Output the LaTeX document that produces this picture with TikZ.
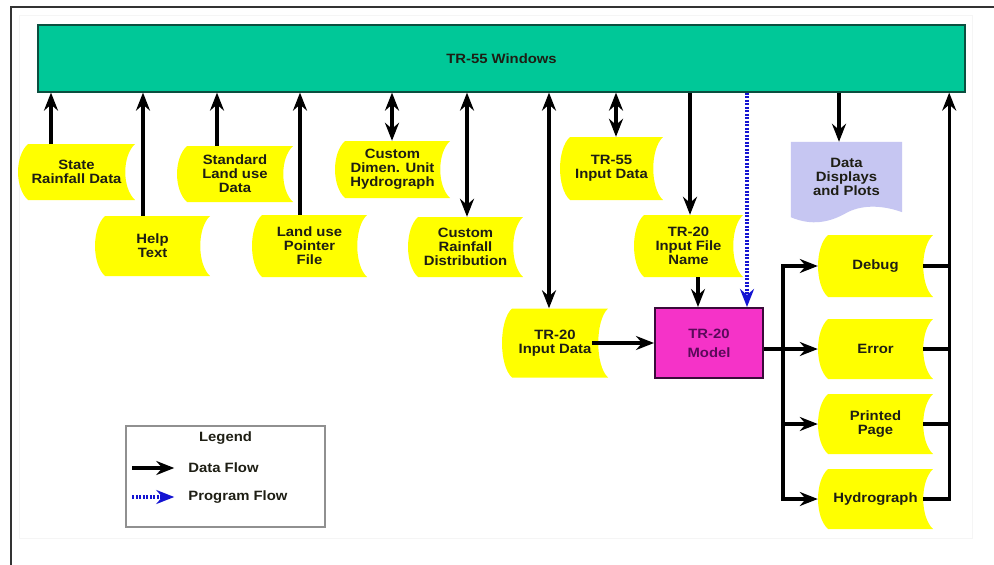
\documentclass[tikz,border=0pt]{standalone}
\usepackage{fontspec}
\setmainfont{Liberation Sans}[FakeStretch=1.1]
\usetikzlibrary{arrows.meta,calc,backgrounds}
\definecolor{barfill}{HTML}{00C898}
\definecolor{bardraw}{HTML}{0B4F3F}
\definecolor{tapefill}{HTML}{FFFF00}
\definecolor{docfill}{HTML}{C6C6F2}
\definecolor{modfill}{HTML}{F533C8}
\definecolor{moddraw}{HTML}{3A0A3A}
\definecolor{modtext}{HTML}{5A0A5A}
\definecolor{pblue}{HTML}{1414D2}
\definecolor{txt}{HTML}{1E1E14}
\definecolor{legdraw}{HTML}{909090}
\begin{document}
\begin{tikzpicture}[x=1pt,y=-1pt,
  lab/.style={font=\bfseries\fontsize{13.5}{14}\selectfont, text=txt, align=center},
  tape/.style 2 args={lab, inner sep=0pt, minimum width=#1, minimum height=#2,
    path picture={\fill[tapefill] let \p1=(path picture bounding box.north west),
      \p2=(path picture bounding box.south east) in
      (\x1+10pt,\y1) -- (\x2,\y1)
      .. controls (\x2-13pt,\y1-12pt) and (\x2-13pt,\y2+12pt) .. (\x2,\y2)
      -- (\x1+10pt,\y2)
      .. controls (\x1-3.3pt,\y2+12pt) and (\x1-3.3pt,\y1-12pt) .. (\x1+10pt,\y1) -- cycle;}},
  tip/.tip={Stealth[length=18pt,width=14pt,inset=6pt]},
  ln/.style={line width=3.4pt, draw=black},
  df/.style={ln, -tip},
  dfb/.style={ln, tip-tip},
  pf/.style={line width=3.4pt, draw=pblue, dash pattern=on 2pt off 1.5pt,
    -{Stealth[length=18pt,width=14pt,inset=6pt,pblue]}}
]
\useasboundingbox (0,0) rectangle (994,565);
\begin{scope}[on background layer]
  \fill[white] (0,0) rectangle (994,565);
\end{scope}
\draw[gray!8, line width=1pt] (19,15) rectangle (972,538);
\draw[line width=2pt, black!80] (994,7) -- (11,7) -- (11,565);

% main bar
\node[lab, draw=bardraw, fill=barfill, line width=1.2pt, minimum width=927pt,
  minimum height=67pt] (bar) at (501.5,58.5) {TR-55 Windows};

% data stores
\node[tape={117pt}{56pt}] (state) at (76.5,172) {State\\Rainfall Data};
\node[tape={115pt}{60pt}] (help) at (152.5,246) {Help\\Text};
\node[tape={116pt}{56pt}] (stdland) at (235,174) {Standard\\Land use\\Data};
\node[tape={115pt}{62pt}] (lupf) at (309.5,246) {Land use\\Pointer\\File};
\node[tape={115pt}{57pt}] (cduh) at (392.5,169.5) {Custom\\Dimen. Unit\\Hydrograph};
\node[tape={115pt}{60pt}] (crd) at (465.5,247) {Custom\\Rainfall\\Distribution};
\node[tape={103pt}{63pt}] (tr55in) at (611.5,168.5) {TR-55\\Input Data};
\node[tape={109pt}{62pt}] (fname) at (688.5,246) {TR-20\\Input File\\Name};
\node[tape={106pt}{69pt}] (tr20in) at (555,343) {TR-20\\Input Data};
\node[tape={115pt}{62pt}] (debug) at (875.5,266) {Debug};
\node[tape={115pt}{60pt}] (error) at (875.5,349) {Error};
\node[tape={115pt}{60pt}] (printed) at (875.5,424) {Printed\\Page};
\node[tape={115pt}{60pt}] (hydro) at (875.5,499) {Hydrograph};

% model
\node[lab, font=\bfseries\fontsize{13.5}{19}\selectfont, text=modtext, fill=modfill,
  draw=moddraw, line width=2pt, minimum width=108pt, minimum height=70pt]
  (model) at (709,343) {TR-20\\Model};

% document
\node[lab, minimum width=111pt, minimum height=69pt] (dd) at (846.5,176.5)
  {Data\\Displays\\and Plots};
\begin{scope}[on background layer]
  \fill[docfill] (dd.north west) -- (dd.north east) -- ($(dd.south east)+(0,1)$)
    .. controls ($(dd.south east)+(-22,-7)$) and ($(dd.south west)+(69,-6)$) .. ($(dd.south west)+(55,2)$)
    .. controls ($(dd.south west)+(39,11)$) and ($(dd.south west)+(21,15)$) .. ($(dd.south west)+(0,6)$)
    -- cycle;
\end{scope}

% connectors to / from the bar
\coordinate (aState) at ([xshift=-25.5pt]state.north);
\coordinate (aHelp) at ([xshift=-9.5pt]help.north);
\coordinate (aStd) at ([xshift=-18pt]stdland.north);
\coordinate (aLupf) at ([xshift=-9.5pt]lupf.north);
\coordinate (aCduh) at ([xshift=-0.5pt]cduh.north);
\coordinate (aCrd) at ([xshift=1.5pt]crd.north);
\coordinate (aTr20) at ([xshift=-6pt]tr20in.north);
\coordinate (aTr55) at ([xshift=4.5pt]tr55in.north);
\coordinate (aFname) at ([xshift=1.5pt]fname.north);
\coordinate (aDd) at ([xshift=-7.5pt]dd.north);
\coordinate (aFm) at ([xshift=9.5pt]fname.south);
\coordinate (aBlue) at ([xshift=38pt]model.north);

\draw[df] (aState) -- (aState |- bar.south);
\draw[df] (aHelp) -- (aHelp |- bar.south);
\draw[df] (aStd) -- (aStd |- bar.south);
\draw[df] (aLupf) -- (aLupf |- bar.south);
\draw[dfb] (aCduh) -- (aCduh |- bar.south);
\draw[dfb] (aCrd) -- (aCrd |- bar.south);
\draw[dfb] (aTr20) -- (aTr20 |- bar.south);
\draw[dfb] (aTr55) -- (aTr55 |- bar.south);
\draw[df] (aFname |- bar.south) -- (aFname);
\draw[df] (aDd |- bar.south) -- (aDd);
\draw[df] (aFm) -- (aFm |- model.north);
\draw[pf] (aBlue |- bar.south) -- (aBlue);
\draw[df] ([xshift=-16pt]tr20in.east) -- (model.west);

% outputs of the model
\coordinate (mo) at ([yshift=-6pt]model.east);
\coordinate (busL) at ([xshift=19pt]mo);
\coordinate (busR) at ([xshift=16pt]hydro.east);
\draw[df] (mo) -- (error.west);
\draw[ln, line cap=rect] (busL |- debug.west) -- (busL |- hydro.west);
\draw[df] (busL |- debug.west) -- (debug.west);
\draw[df] (busL |- printed.west) -- (printed.west);
\draw[df] (busL |- hydro.west) -- (hydro.west);
\draw[ln] ([xshift=-10pt]debug.east) -- (debug.east -| busR);
\draw[ln] ([xshift=-10pt]error.east) -- (error.east -| busR);
\draw[ln] ([xshift=-10pt]printed.east) -- (printed.east -| busR);
\draw[df] ([xshift=-10pt]hydro.east) -| (busR |- bar.south);

% legend
\node[draw=legdraw, line width=1.5pt, minimum width=199pt, minimum height=101pt]
  (legend) at (225.5,476.5) {};
\node[lab] (legt) at ([yshift=-13pt]legend.north) {Legend};
\node[lab, inner sep=0pt, anchor=west] (dfl) at ([xshift=63pt,yshift=8.5pt]legend.west) {Data Flow};
\node[lab, inner sep=0pt, anchor=west] (pfl) at ([xshift=63pt,yshift=-20.5pt]legend.west) {Program Flow};
\draw[df] ([xshift=-56pt]dfl.west) -- ([xshift=-14pt]dfl.west);
\draw[pf] ([xshift=-56pt]pfl.west) -- ([xshift=-14pt]pfl.west);
\end{tikzpicture}
\end{document}
